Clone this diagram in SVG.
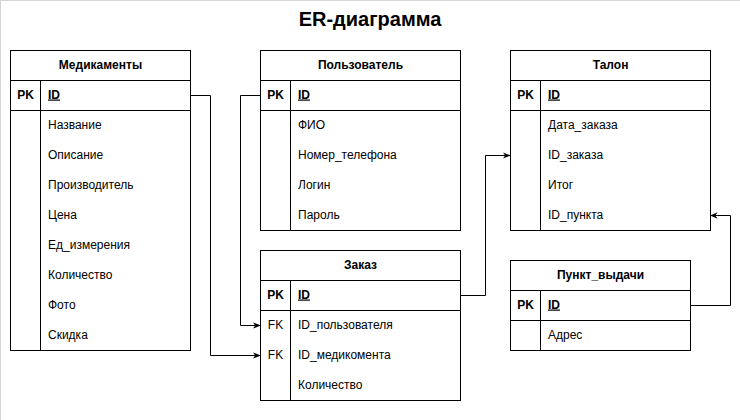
<svg xmlns="http://www.w3.org/2000/svg" width="740" height="420" viewBox="0 0 740 420">
<defs>
<style>
.box{fill:#fff;stroke:#000;stroke-width:1}
.ln{stroke:#000;stroke-width:1;fill:none}
text{font-family:"Liberation Sans",Arial,Helvetica,sans-serif;font-size:12px;fill:#000}
.h{font-weight:bold;text-anchor:middle}
.k{font-weight:bold;text-anchor:middle}
.fk{text-anchor:middle}
.id{font-weight:bold;text-decoration:underline}
.title{font-size:20px;font-weight:bold;text-anchor:middle}
.edge{stroke:#000;stroke-width:1;fill:none;marker-end:url(#arr)}
</style>
<marker id="arr" viewBox="0 0 10 10" refX="9" refY="5" markerWidth="8" markerHeight="8" markerUnits="userSpaceOnUse" orient="auto">
<path d="M0,1 L10,5 L0,9 L3,5 Z" fill="#000"/>
</marker>
</defs>
<rect x="0" y="0" width="740" height="420" fill="#fff"/>
<line x1="0.5" y1="0" x2="0.5" y2="420" stroke="#d4d4d4"/>
<line x1="0" y1="0.5" x2="740" y2="0.5" stroke="#d4d4d4"/>
<text class="title" x="370" y="26">ER-диаграмма</text>

<g id="connectors">
<path class="edge" d="M190.5,95.5 H210.5 V355.5 H260"/>
<path class="edge" d="M260,95.5 H240.5 V325.5 H260"/>
<path class="edge" d="M460.5,295.5 H485.5 V155.5 H510"/>
<path class="edge" d="M690.5,305.5 H730.5 V215.5 H710.5"/>
</g>

<g id="medikamenty">
<rect class="box" x="10.5" y="50.5" width="180" height="300"/>
<line class="ln" x1="10.5" y1="80.5" x2="190.5" y2="80.5"/>
<line class="ln" x1="10.5" y1="110.5" x2="190.5" y2="110.5"/>
<line class="ln" x1="40.5" y1="80.5" x2="40.5" y2="350.5"/>
<text class="h" x="100.5" y="68.5">Медикаменты</text>
<text class="k" x="25.5" y="98.5">PK</text>
<text class="id" x="48" y="98.5">ID</text>
<text x="48" y="128.5">Название</text>
<text x="48" y="158.5">Описание</text>
<text x="48" y="188.5">Производитель</text>
<text x="48" y="218.5">Цена</text>
<text x="48" y="248.5">Ед_измерения</text>
<text x="48" y="278.5">Количество</text>
<text x="48" y="308.5">Фото</text>
<text x="48" y="338.5">Скидка</text>
</g>

<g id="polzovatel">
<rect class="box" x="260.5" y="50.5" width="200" height="180"/>
<line class="ln" x1="260.5" y1="80.5" x2="460.5" y2="80.5"/>
<line class="ln" x1="260.5" y1="110.5" x2="460.5" y2="110.5"/>
<line class="ln" x1="290.5" y1="80.5" x2="290.5" y2="230.5"/>
<text class="h" x="360.5" y="68.5">Пользователь</text>
<text class="k" x="275.5" y="98.5">PK</text>
<text class="id" x="298" y="98.5">ID</text>
<text x="298" y="128.5">ФИО</text>
<text x="298" y="158.5">Номер_телефона</text>
<text x="298" y="188.5">Логин</text>
<text x="298" y="218.5">Пароль</text>
</g>

<g id="zakaz">
<rect class="box" x="260.5" y="250.5" width="200" height="150"/>
<line class="ln" x1="260.5" y1="280.5" x2="460.5" y2="280.5"/>
<line class="ln" x1="260.5" y1="310.5" x2="460.5" y2="310.5"/>
<line class="ln" x1="290.5" y1="280.5" x2="290.5" y2="400.5"/>
<text class="h" x="360.5" y="268.5">Заказ</text>
<text class="k" x="275.5" y="298.5">PK</text>
<text class="id" x="298" y="298.5">ID</text>
<text class="fk" x="275.5" y="328.5">FK</text>
<text x="298" y="328.5">ID_пользователя</text>
<text class="fk" x="275.5" y="358.5">FK</text>
<text x="298" y="358.5">ID_медикомента</text>
<text x="298" y="388.5">Количество</text>
</g>

<g id="talon">
<rect class="box" x="510.5" y="50.5" width="200" height="180"/>
<line class="ln" x1="510.5" y1="80.5" x2="710.5" y2="80.5"/>
<line class="ln" x1="510.5" y1="110.5" x2="710.5" y2="110.5"/>
<line class="ln" x1="540.5" y1="80.5" x2="540.5" y2="230.5"/>
<text class="h" x="610.5" y="68.5">Талон</text>
<text class="k" x="525.5" y="98.5">PK</text>
<text class="id" x="548" y="98.5">ID</text>
<text x="548" y="128.5">Дата_заказа</text>
<text x="548" y="158.5">ID_заказа</text>
<text x="548" y="188.5">Итог</text>
<text x="548" y="218.5">ID_пункта</text>
</g>

<g id="punkt_vydachi">
<rect class="box" x="510.5" y="260.5" width="180" height="90"/>
<line class="ln" x1="510.5" y1="290.5" x2="690.5" y2="290.5"/>
<line class="ln" x1="510.5" y1="320.5" x2="690.5" y2="320.5"/>
<line class="ln" x1="540.5" y1="290.5" x2="540.5" y2="350.5"/>
<text class="h" x="600.5" y="278.5">Пункт_выдачи</text>
<text class="k" x="525.5" y="308.5">PK</text>
<text class="id" x="548" y="308.5">ID</text>
<text x="548" y="338.5">Адрес</text>
</g>
</svg>
